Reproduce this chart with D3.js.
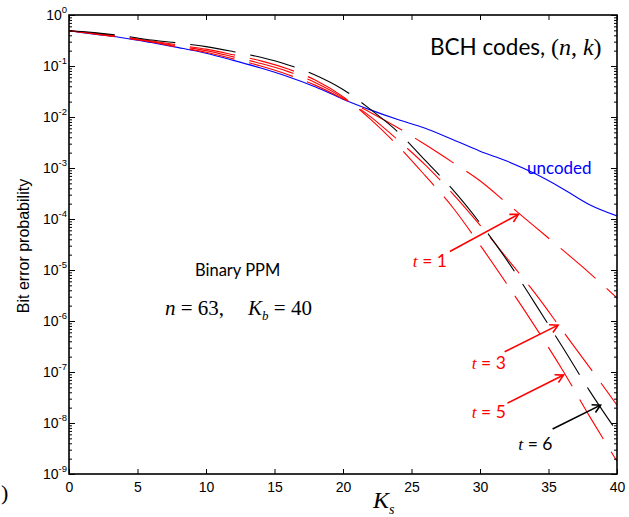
<!DOCTYPE html>
<html><head><meta charset="utf-8">
<script src="https://cdn.jsdelivr.net/npm/d3@7"></script>
<style>body{margin:0;background:#fff} svg{display:block}</style>
</head><body><svg id="c" width="629" height="517"></svg>
<script>
// ---- data ----
const Ks = [0,2,4,6,8,10,12,14,16,18,20,22,24,26,28,30,32,34,36,38,40];
const uncoded = [4.9e-1,4.17e-1,3.55e-1,2.88e-1,2.29e-1,1.78e-1,1.29e-1,9.12e-2,6.17e-2,3.89e-2,2.24e-2,1.38e-2,8.91e-3,6.03e-3,3.63e-3,2.14e-3,1.35e-3,7.76e-4,3.98e-4,1.91e-4,1.15e-4];
const bchT1 = [4.9e-1,4.22e-1,3.55e-1,2.95e-1,2.34e-1,1.86e-1,1.38e-1,1.0e-1,6.76e-2,4.17e-2,2.29e-2,1.23e-2,6.17e-3,2.88e-3,1.29e-3,5.62e-4,2.0e-4,7.08e-5,2.51e-5,8.71e-6,2.82e-6];
const bchT3 = [4.9e-1,4.27e-1,3.63e-1,3.02e-1,2.45e-1,2.0e-1,1.51e-1,1.12e-1,7.76e-2,4.68e-2,2.40e-2,1.02e-2,3.55e-3,1.15e-3,3.16e-4,7.59e-5,1.66e-5,3.55e-6,6.61e-7,1.23e-7,2.24e-8];
const bchT5 = [4.9e-1,4.37e-1,3.72e-1,3.09e-1,2.57e-1,2.14e-1,1.66e-1,1.26e-1,8.71e-2,5.25e-2,2.51e-2,9.12e-3,2.75e-3,7.08e-4,1.70e-4,3.09e-5,5.13e-6,7.94e-7,1.12e-7,1.35e-8,1.78e-9];
const bchT6 = [4.9e-1,4.47e-1,3.89e-1,3.24e-1,2.82e-1,2.40e-1,1.91e-1,1.48e-1,1.05e-1,6.61e-2,3.47e-2,1.41e-2,5.13e-3,1.41e-3,3.80e-4,8.32e-5,1.51e-5,2.24e-6,3.16e-7,4.27e-8,6.76e-9];
const xTicks = [0,5,10,15,20,25,30,35,40];
const yTickExps = [0,-1,-2,-3,-4,-5,-6,-7,-8,-9];
// arrow annotations (data units)
const tLabels = [
  {t:"1", color:"#ff0000", tx:25.1, ty:1.15e-5, x1:27.8, y1:2.3e-5,  x2:32.8, y2:1.23e-4},
  {t:"3", color:"#ff0000", tx:29.4, ty:1.15e-7, x1:31.8, y1:2.5e-7,  x2:35.7, y2:8.3e-7},
  {t:"5", color:"#ff0000", tx:29.4, ty:1.26e-8, x1:32.0, y1:2.45e-8, x2:36.1, y2:8.7e-8},
  {t:"6", color:"#000000", tx:32.8, ty:2.95e-9, x1:35.3, y1:7.6e-9,  x2:38.8, y2:2.24e-8}
];

// ---- chart ----
const svg = d3.select("#c");
const X0 = 69, X1 = 617, Y0 = 474, Y1 = 15;
const x = d3.scaleLinear().domain([0,40]).range([X0,X1]);
const y = d3.scaleLog().domain([1e-9,1]).range([Y0,Y1]);
const SANS = "Liberation Sans, Arial, sans-serif";
const CAL = "Lato, 'Open Sans', sans-serif";
const SERIF = "Liberation Serif, 'Times New Roman', serif";

const yMajor = yTickExps.map(e => Math.pow(10, e));
const yMinor = [];
yTickExps.slice(1).forEach(e => { for (let m = 2; m <= 9; m++) yMinor.push(m * Math.pow(10, e)); });

svg.append("defs").append("clipPath").attr("id","clip")
  .append("rect").attr("x",X0).attr("y",Y1).attr("width",X1-X0).attr("height",Y0-Y1);

// curves
const line = d3.line().x((d,i) => x(Ks[i])).y(d => y(d)).curve(d3.curveMonotoneX);
const plot = svg.append("g").attr("clip-path","url(#clip)");
plot.append("path").attr("d", line(uncoded)).attr("fill","none").attr("stroke","#0000ff").attr("stroke-width",1.1);
[[bchT1,"#ff0000"],[bchT3,"#ff0000"],[bchT5,"#ff0000"],[bchT6,"#000000"]].forEach(([s,c]) => {
  plot.append("path").attr("d", line(s)).attr("fill","none").attr("stroke",c)
    .attr("stroke-width",1.1).attr("stroke-dasharray","46,15");
});

// axes
function styleAxis(g){ g.select(".domain").remove(); g.selectAll("line").attr("stroke","#000").attr("stroke-width",1); }
svg.append("g").attr("transform",`translate(0,${Y0})`)
  .call(d3.axisBottom(x).tickValues(xTicks).tickSizeInner(-5).tickSizeOuter(0).tickPadding(8))
  .call(styleAxis)
  .call(g => g.selectAll("text").attr("font-family",SANS).attr("font-size",14).attr("fill","#000"));
svg.append("g").attr("transform",`translate(0,${Y1})`)
  .call(d3.axisTop(x).tickValues(xTicks).tickSizeInner(-5).tickSizeOuter(0).tickFormat(""))
  .call(styleAxis);
[[d3.axisLeft, X0],[d3.axisRight, X1]].forEach(([ax, pos]) => {
  svg.append("g").attr("transform",`translate(${pos},0)`)
    .call(ax(y).tickValues(yMajor).tickSizeInner(-6).tickSizeOuter(0).tickFormat(""))
    .call(styleAxis);
  svg.append("g").attr("transform",`translate(${pos},0)`)
    .call(ax(y).tickValues(yMinor).tickSizeInner(-3).tickSizeOuter(0).tickFormat(""))
    .call(styleAxis);
});
svg.append("rect").attr("x",X0).attr("y",Y1).attr("width",X1-X0).attr("height",Y0-Y1)
  .attr("fill","none").attr("stroke","#000").attr("stroke-width",1.6);

// y tick labels 10^e
yTickExps.forEach(e => {
  const t = svg.append("text").attr("x",X0-2).attr("y",y(Math.pow(10,e))+5)
    .attr("text-anchor","end").attr("font-family",SANS).attr("font-size",14).attr("fill","#000");
  t.append("tspan").text("10");
  t.append("tspan").attr("dy",-7).attr("font-size",9.5).text(String(e));
});

// axis titles
svg.append("text").attr("transform",`translate(29,246) rotate(-90)`).attr("text-anchor","middle")
  .attr("font-family",SANS).attr("font-size",16).attr("fill","#000").text("Bit error probability");
const xl = svg.append("text").attr("x",373).attr("y",508).attr("font-family",SERIF).attr("fill","#000");
xl.append("tspan").attr("font-style","italic").attr("font-size",24).text("K");
xl.append("tspan").attr("font-style","italic").attr("font-size",14).attr("dy",6).text("s");
svg.append("text").attr("x",1).attr("y",500).attr("font-family",SERIF).attr("font-size",22).attr("fill","#000").text(")");

// title
const tt = svg.append("text").attr("x",430).attr("y",55).attr("font-family",CAL).attr("font-size",22.5).attr("fill","#000");
tt.append("tspan").text("BCH codes, ");
tt.append("tspan").attr("font-family",SERIF).attr("font-size",24).text("(");
tt.append("tspan").attr("font-family",SERIF).attr("font-size",24).attr("font-style","italic").text("n");
tt.append("tspan").attr("font-family",SERIF).attr("font-size",24).text(", ");
tt.append("tspan").attr("font-family",SERIF).attr("font-size",24).attr("font-style","italic").text("k");
tt.append("tspan").attr("font-family",SERIF).attr("font-size",24).text(")");

svg.append("text").attr("x",527).attr("y",174).attr("font-family",CAL).attr("font-size",17).attr("fill","#0000ff").text("uncoded");
svg.append("text").attr("x",195).attr("y",276).attr("font-family",CAL).attr("font-size",16.5).attr("fill","#000").text("Binary PPM");
const pt = svg.append("text").attr("x",165).attr("y",315).attr("font-family",SERIF).attr("font-size",21).attr("fill","#000");
pt.append("tspan").attr("font-style","italic").text("n");
pt.append("tspan").text(" = 63,");
pt.append("tspan").attr("dx",24).attr("font-style","italic").text("K");
pt.append("tspan").attr("font-style","italic").attr("font-size",13).attr("dy",5).text("b");
pt.append("tspan").attr("dy",-5).text(" = 40");

// t labels + arrows
tLabels.forEach(d => {
  const ax1 = x(d.x1), ay1 = y(d.y1), ax2 = x(d.x2), ay2 = y(d.y2);
  svg.append("line").attr("x1",ax1).attr("y1",ay1).attr("x2",ax2).attr("y2",ay2)
    .attr("stroke",d.color).attr("stroke-width",1.6);
  const a = Math.atan2(ay2-ay1, ax2-ax1), L = 9, h = 0.5;
  const p1 = [ax2 - L*Math.cos(a-h), ay2 - L*Math.sin(a-h)];
  const p2 = [ax2 - L*Math.cos(a+h), ay2 - L*Math.sin(a+h)];
  svg.append("path").attr("d",`M${p1}L${ax2},${ay2}L${p2}`).attr("fill","none")
    .attr("stroke",d.color).attr("stroke-width",1.6);
  const tx = svg.append("text").attr("x",x(d.tx)).attr("y",y(d.ty)).attr("fill",d.color).attr("font-size",17.5);
  tx.append("tspan").attr("font-family",SERIF).attr("font-style","italic").text("t");
  tx.append("tspan").attr("font-family",CAL).text(" = " + d.t);
});
</script>
</body></html>
